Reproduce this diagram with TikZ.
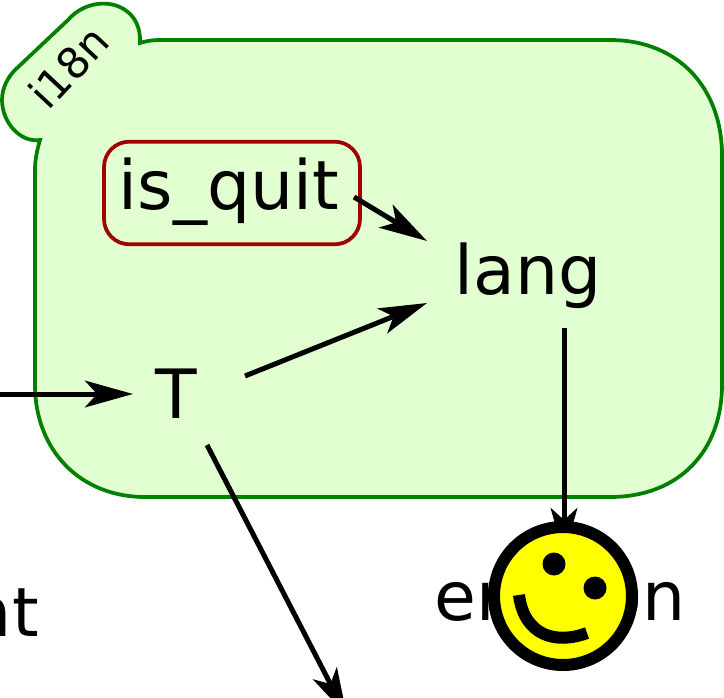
\documentclass[tikz,border=0pt]{standalone}
\usepackage{fontspec}
\setmainfont{DejaVu Sans}
\usetikzlibrary{arrows.meta}
\definecolor{grp}{RGB}{226,255,210}
\definecolor{grpline}{RGB}{0,128,0}
\definecolor{quit}{RGB}{160,0,0}
\definecolor{smileface}{RGB}{255,255,0}
\tikzset{
 lab/.style={inner sep=0pt,anchor=base,font=\fontsize{51}{51}\selectfont,text=black},
 conn/.style={line width=3.75pt,-{Stealth[length=36pt,width=20pt,inset=9pt]},black},
}
\begin{document}
\begin{tikzpicture}[x=0.75pt,y=-0.75pt]
\useasboundingbox (0,0) rectangle (724,698);
\path[fill=grp,draw=grpline,line width=2.8pt]
 (140,43) .. controls (150,40) and (155,40) .. (165,40) -- (610,40)
 .. controls (680,40) and (722,90) .. (722,155) -- (722,385)
 .. controls (722,450) and (680,497) .. (610,497) -- (145,497)
 .. controls (80,497) and (35,450) .. (35,385) -- (35,170)
 .. controls (35,160) and (37,150) .. (40,140)
 .. controls (20,143) and (2,122) .. (2,100)
 .. controls (2,88) and (8,77) .. (15,70) -- (68,20)
 .. controls (92,-8) and (142,0) .. (140,43) -- cycle;
\node[rotate=47,font=\fontsize{32}{32}\selectfont,inner sep=0pt] (grplabel) at (69,67) {i18n};
\node[draw=quit,line width=2.8pt,rounded corners=19pt,minimum width=192pt,minimum height=77pt,inner sep=0pt] (quit) at (232,193) {};
\node[lab] (quittext) at (229,210) {is\_quit};
\node[lab] (lang) at (528,295) {lang};
\node[lab] (T) at (176,418) {T};
\node[lab] (emotion) at (560,620) {er\hspace{72pt}on};
\node[lab,anchor=base east] (ent) at (39,636) {nt};
\coordinate (in) at (-2,394);
\coordinate (out) at (347,716);
\coordinate (quitout) at (354,197);
\coordinate (langin) at (427,241);
\coordinate (Tout) at (245,376);
\coordinate (langinb) at (427,303);
\coordinate (Tin) at (133,394);
\coordinate (langout) at (564,328);
\coordinate (smiletop) at (564,556);
\coordinate (Tdown) at (207,445);
\draw[conn] (in) -- (Tin);
\draw[conn] (quitout) -- (langin);
\draw[conn] (Tout) -- (langinb);
\draw[conn] (langout) -- (smiletop);
\draw[conn] (Tdown) -- (out);
\node[circle,fill=smileface,draw=black,line width=9pt,minimum size=103.5pt,inner sep=0pt,outer sep=0pt] (smile) at (563,596) {};
\fill (554,564) circle (11.5);
\fill (595,588) circle (11.5);
\draw[line width=9pt] (519,595) .. controls (524,635) and (555,645) .. (587,633);
\end{tikzpicture}
\end{document}
